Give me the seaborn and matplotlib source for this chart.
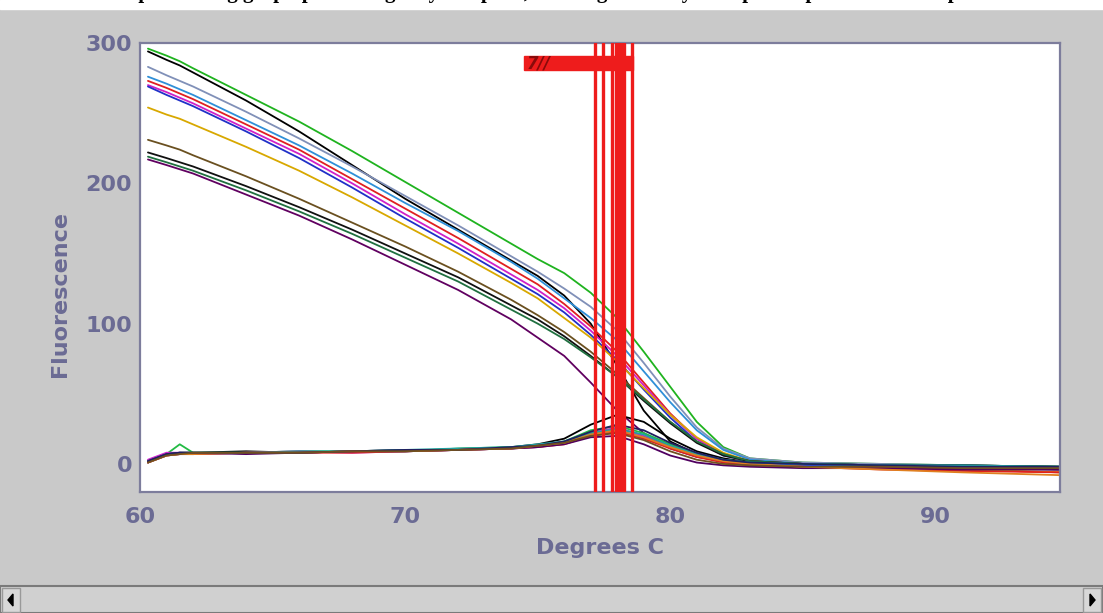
import matplotlib
matplotlib.use("Agg")
import matplotlib.pyplot as plt
from matplotlib.patches import Rectangle, Polygon
import numpy as np
import pandas as pd
import seaborn as sns

# temperature grid (deg C) shared by all wells
temps = [60.3, 61, 61.5, 62, 64, 66, 68, 70, 72, 74, 75, 76, 77, 78, 79, 80, 81, 82, 83, 85, 88, 91, 94.7]

# melting curves of the amplified wells
green_hi   = [296, 291, 287, 282, 263, 244, 223, 201, 179, 157, 146, 136, 122, 104, 80, 55, 30, 12, 4, 1, 0, -1, -2]
black_hi   = [294, 288, 284, 279, 259, 237, 213, 189, 167, 145, 134, 120, 100, 70, 38, 16, 7, 3, 1, 0, -1, -1, -2]
slate_hi   = [283, 277, 273, 269, 251, 232, 212, 191, 170, 148, 137, 125, 112, 95, 72, 48, 26, 11, 4, 1, 0, -1, -2]
sky_hi     = [276, 271, 267, 263, 245, 227, 207, 186, 166, 144, 132, 118, 104, 88, 66, 44, 24, 10, 3, 0, -1, -2, -3]
red_hi     = [273, 268, 264, 260, 242, 224, 203, 182, 161, 139, 128, 114, 98, 80, 58, 36, 18, 7, 2, -1, -2, -4, -6]
magenta_hi = [270, 265, 261, 257, 239, 221, 200, 178, 157, 135, 124, 111, 95, 77, 56, 35, 18, 7, 2, 0, -1, -2, -3]
blue_hi    = [269, 263, 259, 255, 237, 218, 197, 175, 154, 132, 121, 108, 92, 74, 53, 33, 16, 6, 2, 0, -1, -2, -3]
yellow_hi  = [254, 249, 246, 242, 226, 209, 190, 170, 150, 129, 118, 104, 90, 73, 54, 35, 19, 8, 2, 0, -2, -4, -6]
brown_hi   = [231, 227, 224, 220, 205, 189, 172, 155, 137, 117, 106, 94, 80, 64, 47, 30, 16, 7, 2, 0, -1, -2, -3]
black_lo   = [222, 218, 215, 212, 198, 183, 167, 150, 133, 113, 103, 91, 77, 62, 45, 29, 15, 6, 2, 0, -1, -2, -3]
dgreen_hi  = [219, 215, 212, 209, 195, 180, 164, 147, 130, 110, 100, 89, 76, 62, 46, 30, 16, 7, 2, 0, -1, -3, -4]
purple_hi  = [217, 213, 210, 207, 192, 177, 160, 142, 124, 103, 90, 77, 58, 38, 22, 11, 5, 2, 0, -1, -2, -3, -4]

# flat curves (controls) near baseline
black_nt   = [1, 7, 8, 8, 9, 8, 9, 10, 10, 12, 14, 18, 28, 35, 30, 18, 9, 4, 1, 0, -1, -1, -2]
green_nt   = [2, 7, 14, 8, 8, 9, 9, 9, 11, 12, 13, 16, 24, 27, 22, 14, 7, 3, 1, 0, -1, -2, -2]
magenta_nt = [3, 8, 8, 7, 8, 9, 8, 9, 10, 11, 13, 15, 22, 26, 20, 12, 6, 2, 0, -1, -2, -2, -3]
blue_nt    = [1, 6, 7, 7, 8, 8, 9, 9, 10, 11, 12, 15, 21, 24, 19, 12, 6, 2, 0, -1, -1, -2, -3]
teal_nt    = [2, 7, 8, 8, 8, 9, 9, 10, 11, 12, 14, 16, 22, 25, 21, 13, 7, 3, 1, 0, -1, -1, -2]
red_nt     = [1, 6, 7, 7, 8, 8, 8, 9, 10, 11, 12, 14, 20, 23, 18, 11, 5, 1, -1, -2, -4, -5, -6]
purple_nt  = [2, 7, 8, 8, 7, 8, 9, 9, 10, 11, 12, 14, 19, 20, 14, 6, 1, -1, -2, -3, -3, -4, -4]
orange_nt  = [1, 6, 7, 7, 8, 8, 9, 9, 10, 11, 13, 15, 21, 24, 19, 12, 6, 2, 0, -2, -4, -6, -8]
navy_nt    = [2, 7, 8, 8, 8, 8, 9, 10, 10, 12, 13, 16, 23, 28, 24, 15, 8, 3, 1, 0, -1, -2, -2]
brown_nt   = [1, 6, 7, 8, 8, 8, 9, 9, 10, 11, 13, 15, 20, 22, 17, 9, 3, 0, -1, -2, -2, -3, -3]

curves = {
    "green_hi": (green_hi, "#1fb31f"), "black_hi": (black_hi, "#000000"),
    "slate_hi": (slate_hi, "#8090b8"), "sky_hi": (sky_hi, "#2f8fd8"),
    "red_hi": (red_hi, "#e02020"), "magenta_hi": (magenta_hi, "#d020c8"),
    "blue_hi": (blue_hi, "#2030c8"), "yellow_hi": (yellow_hi, "#d8a800"),
    "brown_hi": (brown_hi, "#6a5020"), "black_lo": (black_lo, "#101010"),
    "dgreen_hi": (dgreen_hi, "#207040"), "purple_hi": (purple_hi, "#600060"),
    "black_nt": (black_nt, "#000000"), "green_nt": (green_nt, "#22bb44"),
    "magenta_nt": (magenta_nt, "#cc22cc"), "blue_nt": (blue_nt, "#2244dd"),
    "teal_nt": (teal_nt, "#20a0a0"), "red_nt": (red_nt, "#e02020"),
    "purple_nt": (purple_nt, "#500060"), "orange_nt": (orange_nt, "#e08020"),
    "navy_nt": (navy_nt, "#202060"), "brown_nt": (brown_nt, "#705020"),
}

# melt peak markers (deg C)
peak_temps = [77.17, 77.48, 77.82, 77.97, 78.07, 78.17, 78.27, 78.57]
label_bar = (74.5, 78.6, 280.5, 290.5)

rows = []
for name, (vals, _) in curves.items():
    for t, v in zip(temps, vals):
        rows.append({"temp": t, "fluor": v, "well": name})
df = pd.DataFrame(rows)
palette = {name: c for name, (_, c) in curves.items()}

sns.set_style("white")
plt.rcParams["font.family"] = ["DejaVu Sans"]

W, H = 1103, 613
fig = plt.figure(figsize=(W / 100, H / 100), dpi=100, facecolor="#c9c9c9")
ax = fig.add_axes([140 / W, (H - 492) / H, 920 / W, 449 / H])
ax.set_facecolor("white")

sns.lineplot(data=df, x="temp", y="fluor", hue="well", palette=palette,
             estimator=None, sort=False, legend=False, lw=1.3, ax=ax)

for t in peak_temps:
    ax.axvline(t, color="#ee1c1c", lw=2.4, zorder=5)
x0, x1, y0, y1 = label_bar
ax.add_patch(Rectangle((x0, y0), x1 - x0, y1 - y0, color="#ee1c1c", zorder=6))
ax.text(x0 + 0.1, (y0 + y1) / 2, "7//", color="#8a0a0a", fontsize=12,
        fontweight="bold", style="italic", va="center", zorder=7)

ax.set_xlim(60, 94.7)
ax.set_ylim(-20, 300)
axis_col = "#6b6b94"
spine_col = "#7d7d9c"
ax.set_xticks([60, 70, 80, 90])
ax.set_xticks([65, 75, 85], minor=True)
ax.set_yticks([0, 100, 200, 300])
ax.set_yticks([50, 150, 250], minor=True)
ax.tick_params(which="both", direction="inout", color=spine_col, width=1.5,
               labelcolor=axis_col, labelsize=16)
ax.tick_params(which="major", length=9, pad=1)
ax.tick_params(which="minor", length=8)
ax.tick_params(axis="x", pad=6)
for lab in ax.get_xticklabels() + ax.get_yticklabels():
    lab.set_fontweight("bold")
for s in ax.spines.values():
    s.set_color(spine_col)
    s.set_linewidth(1.6)
ax.set_xlabel("Degrees C", fontsize=16, fontweight="bold", color=axis_col, labelpad=8)
ax.set_ylabel("Fluorescence", fontsize=16, fontweight="bold", color=axis_col)
ax.yaxis.set_label_coords(-0.076, 0.44)

# cropped caption strip at the top
fig.patches.append(Rectangle((0, 1 - 9 / H), 1, 9 / H, transform=fig.transFigure,
                             color="white", zorder=0))
fig.text(0.5, 1 + 2 / H, "Sample melting graph presenting only one peak, showing that only one specific product was amplified",
         family=["Liberation Serif", "DejaVu Serif"], fontweight="bold", fontsize=15,
         ha="center", va="baseline", color="black")

# scrollbar at the bottom
fig.patches.append(Rectangle((0, 0), 1, 27 / H, transform=fig.transFigure,
                             facecolor="#d0d0d0", edgecolor="#7a7a7a", lw=1.5))
fig.patches.append(Rectangle((2 / W, 1 / H), 18 / W, 24 / H, transform=fig.transFigure,
                             facecolor="#d8d8d8", edgecolor="#999999", lw=1))
fig.patches.append(Rectangle((1083 / W, 1 / H), 18 / W, 24 / H, transform=fig.transFigure,
                             facecolor="#d8d8d8", edgecolor="#999999", lw=1))
fig.patches.append(Polygon([(8 / W, 13 / H), (13 / W, 19 / H), (13 / W, 7 / H)],
                           closed=True, transform=fig.transFigure, color="black"))
fig.patches.append(Polygon([(1095 / W, 13 / H), (1090 / W, 19 / H), (1090 / W, 7 / H)],
                           closed=True, transform=fig.transFigure, color="black"))

fig.savefig("out.png", dpi=100, facecolor=fig.get_facecolor())
